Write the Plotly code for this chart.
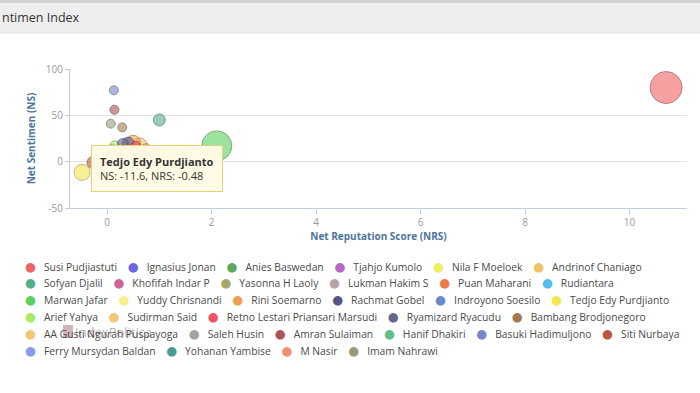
import plotly.graph_objects as go

# ---------------- data ----------------
NAMES = [
    "Susi Pudjiastuti", "Ignasius Jonan", "Anies Baswedan", "Tjahjo Kumolo",
    "Nila F Moeloek", "Andrinof Chaniago", "Sofyan Djalil", "Khofifah Indar P",
    "Yasonna H Laoly", "Lukman Hakim S", "Puan Maharani", "Rudiantara",
    "Marwan Jafar", "Yuddy Chrisnandi", "Rini Soemarno", "Rachmat Gobel",
    "Indroyono Soesilo", "Tedjo Edy Purdjianto", "Arief Yahya", "Sudirman Said",
    "Retno Lestari Priansari Marsudi", "Ryamizard Ryacudu", "Bambang Brodjonegoro",
    "AA Gusti Ngurah Puspayoga", "Saleh Husin", "Amran Sulaiman", "Hanif Dhakiri",
    "Basuki Hadimuljono", "Siti Nurbaya", "Ferry Mursydan Baldan", "Yohanan Yambise",
    "M Nasir", "Imam Nahrawi",
]
NRS = [10.7, 0.9, 0.6, 0.3, 0.2, 0.63, 1.0, 0.45, 0.7, 0.05, 0.55, 0.1,
       2.1, 1.2, 0.5, 0.4, 0.8, -0.48, 0.15, 0.35, 0.55, 0.3, 0.29,
       1.1, 0.95, 0.14, 1.4, 0.13, -0.27, 0.65, 1.6, 0.75, 0.07]
NS = [80, 8, 12, 5, 10, 18, 45, 3, 6, 8, 14, 14,
      17, 4, 21, 20, 11, -11.6, 17, 12, 16, 19, 37,
      9, 2, 56, 6, 77, -1, 1, 3, 14, 41]
VOLUME = [256, 36, 30, 30, 25, 49, 36, 25, 25, 20, 36, 20,
          225, 25, 49, 36, 20, 64, 25, 36, 30, 30, 20,
          20, 20, 20, 20, 20, 36, 20, 20, 25, 20]
COLORS = [
    "#ee6363", "#6a6ade", "#5aaa5a", "#b866c8", "#f3ec60", "#f0c263",
    "#55ad8c", "#cc6699", "#a8a86c", "#b8a2aa", "#ee7a48", "#55bbee",
    "#5ccf5c", "#f6ef8a", "#f0a050", "#545488", "#6a88cc", "#f3e64c",
    "#aaea66", "#f4c870", "#ee5566", "#66668a", "#a27a52",
    "#f0c870", "#a2a2a2", "#aa5656", "#66bb8a", "#7088c8", "#bb5646",
    "#8898ec", "#4f9a90", "#f09070", "#9a9a78",
]
ROW_SIZES = [6, 6, 6, 5, 6, 4]
X_TICKS = [0, 2, 4, 6, 8, 10]
Y_TICKS = [-50, 0, 50, 100]
TOOLTIP_NAME = "Tedjo Edy Purdjianto"

# ---------------- layout helpers ----------------
W, H = 700, 393
ML, MR, MT, MB = 70, 13, 69, 185
PW, PH = W - ML - MR, H - MT - MB
FONT = "Open Sans, DejaVu Sans, sans-serif"


def px_x(p):
    return (p - ML) / PW


def px_y(p):
    return (H - MB - p) / PH


def rgba(hexc, a):
    h = hexc.lstrip("#")
    r, g, b = int(h[0:2], 16), int(h[2:4], 16), int(h[4:6], 16)
    return f"rgba({r},{g},{b},{a})"


def darker(hexc, f=0.7):
    h = hexc.lstrip("#")
    r, g, b = (int(h[i:i + 2], 16) for i in (0, 2, 4))
    return f"rgb({int(r*f)},{int(g*f)},{int(b*f)})"


fig = go.Figure()
sizeref = 2 * max(VOLUME) / (32 ** 2)
for n, x, y, z, c in zip(NAMES, NRS, NS, VOLUME, COLORS):
    fig.add_trace(go.Scatter(
        x=[x], y=[y], mode="markers", name=n, showlegend=False,
        marker=dict(size=[z], sizemode="area", sizeref=sizeref,
                    color=rgba(c, 0.85), line=dict(color=darker(c), width=1)),
        hovertemplate=f"<b>{n}</b><br>NS: %{{y}}, NRS: %{{x}}<extra></extra>",
    ))

shapes = [
    dict(type="rect", xref="paper", yref="paper", x0=px_x(0), x1=px_x(W),
         y0=px_y(33), y1=px_y(0), fillcolor="#eeeeee", line=dict(width=0), layer="below"),
    dict(type="rect", xref="paper", yref="paper", x0=px_x(0), x1=px_x(W),
         y0=px_y(3), y1=px_y(0), fillcolor="#d2d2d2", line=dict(width=0), layer="below"),
    dict(type="line", xref="paper", yref="paper", x0=px_x(0), x1=px_x(W),
         y0=px_y(33), y1=px_y(33), line=dict(color="#dddddd", width=1)),
    # watermark logo square
    dict(type="rect", xref="paper", yref="paper", x0=px_x(63), x1=px_x(73),
         y0=px_y(338), y1=px_y(325), fillcolor="rgba(150,90,90,0.45)", line=dict(width=0)),
]

annotations = [
    dict(xref="paper", yref="paper", x=px_x(0), y=px_y(17), xanchor="left",
         yanchor="middle", text="ntimen Index", showarrow=False,
         font=dict(family=FONT, size=12.5, color="#333333")),
    dict(xref="paper", yref="paper", x=px_x(73), y=px_y(332), xanchor="left",
         yanchor="middle", text="IndexPolitica", showarrow=False,
         font=dict(family=FONT, size=13, color="rgba(120,95,95,0.5)")),
]

# legend rows (flowing text with coloured bullets)
idx = 0
for r, cnt in enumerate(ROW_SIZES):
    parts = []
    for k in range(idx, idx + cnt):
        parts.append(f"<span style='color:{COLORS[k]};font-size:12.5px'>●</span>   {NAMES[k]}")
    idx += cnt
    annotations.append(dict(
        xref="paper", yref="paper", x=px_x(23), y=px_y(266 + r * 16.8),
        xanchor="left", yanchor="middle", text="    ".join(parts), showarrow=False,
        font=dict(family=FONT, size=10.3, color="#4a4a4a")))

# tooltip box anchored to its point
ti = NAMES.index(TOOLTIP_NAME)
annotations.append(dict(
    x=NRS[ti], y=NS[ti], xref="x", yref="y", xanchor="left", yanchor="top",
    xshift=9, yshift=27, showarrow=False, align="left",
    text=f"<b>{TOOLTIP_NAME}</b><br>NS: {NS[ti]}, NRS: {NRS[ti]}",
    bgcolor="rgba(255,251,228,0.97)", bordercolor="#e3d27c", borderwidth=1,
    borderpad=8, font=dict(family=FONT, size=11, color="#333333")))

fig.update_layout(
    width=W, height=H, margin=dict(l=ML, r=MR, t=MT, b=MB),
    paper_bgcolor="white", plot_bgcolor="white",
    font=dict(family=FONT),
    shapes=shapes, annotations=annotations,
    xaxis=dict(range=[-0.71, 11.1], tickvals=X_TICKS, ticktext=[str(v) for v in X_TICKS],
               showgrid=False, zeroline=False,
               showline=True, linecolor="#c0d0e0", ticks="outside", ticklen=5,
               tickcolor="#c0d0e0", tickfont=dict(size=10, color="#999999"),
               title=dict(text="<b>Net Reputation Score (NRS)</b>", standoff=4,
                          font=dict(size=10, color="#4d759e"))),
    yaxis=dict(range=[-50, 100], tickvals=Y_TICKS, ticktext=[str(v) for v in Y_TICKS],
               showgrid=True, gridcolor="#e2e2e2",
               zeroline=False, showline=True, linecolor="#c8c8c8", ticks="outside",
               ticklen=4, tickcolor="#c8c8c8", tickfont=dict(size=10, color="#999999"),
               title=dict(text="<b>Net Sentimen (NS)</b>", standoff=8,
                          font=dict(size=10, color="#4d759e"))),
)

fig.write_html("out.html", config={"displayModeBar": False},
               post_script="document.body.style.margin='0px';")
